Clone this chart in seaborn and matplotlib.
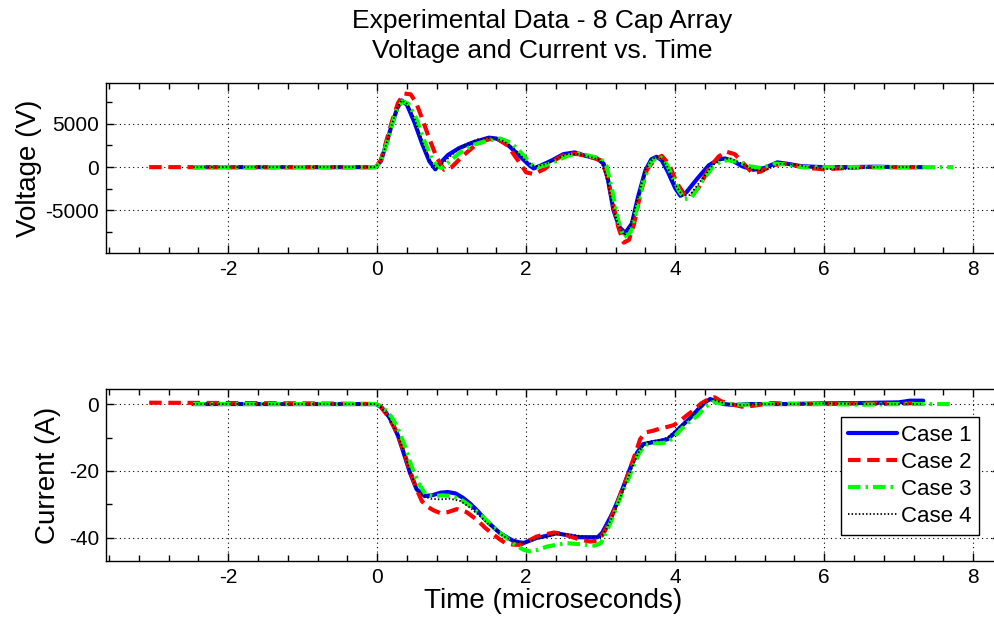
import numpy as np
import pandas as pd
import matplotlib
matplotlib.use("Agg")
import matplotlib.pyplot as plt
from matplotlib.ticker import MultipleLocator
import seaborn as sns

# Dados (tempo em microssegundos)
case_names = ["Case 1", "Case 2", "Case 3", "Case 4"]

# Tensão (V)
t_v1 = [-2.47, -0.02, 0.05, 0.12, 0.2, 0.27, 0.33, 0.4, 0.5, 0.6, 0.7, 0.78, 0.85, 0.95, 1.1, 1.3, 1.5,
        1.6, 1.75, 1.9, 2.02, 2.1, 2.2, 2.35, 2.5, 2.65, 2.8, 2.95, 3.04, 3.1, 3.17, 3.25, 3.33, 3.42, 3.5,
        3.6, 3.68, 3.75, 3.82, 3.9, 4.0, 4.07, 4.15, 4.3, 4.45, 4.58, 4.67, 4.78, 4.9, 5.05, 5.2, 5.37,
        5.5, 5.7, 6.0, 6.3, 6.7, 7.0, 7.33]
v1 = [0, 0, 700, 2600, 5000, 6800, 7700, 7200, 5200, 2800, 700, -250, 500, 1400, 2200, 2900, 3400,
      3300, 2600, 1400, 400, -150, 200, 800, 1500, 1700, 1300, 1000, 400, -1500, -4900, -6900, -7600,
      -6500, -3500, -400, 900, 1200, 800, -500, -2400, -3300, -2900, -1300, 200, 900, 1000, 700, 100,
      -300, -100, 550, 400, 100, 0, 0, 50, 0, 0]

t_v2 = [-3.06, -0.02, 0.05, 0.12, 0.2, 0.28, 0.36, 0.45, 0.52, 0.6, 0.7, 0.8, 0.9, 1.0, 1.15, 1.3, 1.45,
        1.6, 1.75, 1.88, 2.0, 2.1, 2.25, 2.4, 2.55, 2.7, 2.85, 3.0, 3.08, 3.16, 3.24, 3.31, 3.38, 3.45,
        3.53, 3.62, 3.72, 3.82, 3.92, 4.02, 4.12, 4.22, 4.32, 4.45, 4.58, 4.68, 4.8, 4.92, 5.04, 5.15,
        5.3, 5.45, 5.6, 5.8, 6.0, 6.2, 6.5, 6.9, 7.25]
v2 = [0, 0, 800, 2900, 5300, 7400, 8500, 8400, 7500, 5700, 3300, 1100, -300, 0, 1300, 2400, 3100,
      3400, 2500, 900, -600, -800, -200, 900, 1600, 1500, 1200, 800, -700, -4000, -7000, -8700, -8400,
      -6500, -3200, -300, 800, 1300, 300, -1800, -3100, -3300, -2300, -200, 1200, 1800, 1500, 400,
      -700, -500, 200, 400, 200, -100, -250, -150, 0, 0, 0]

t_v3 = [-2.47, -0.02, 0.05, 0.12, 0.2, 0.27, 0.34, 0.42, 0.52, 0.62, 0.72, 0.8, 0.87, 0.95, 1.1, 1.3,
        1.5, 1.65, 1.8, 1.95, 2.07, 2.15, 2.25, 2.4, 2.55, 2.7, 2.85, 3.0, 3.08, 3.15, 3.23, 3.31, 3.4,
        3.48, 3.57, 3.67, 3.77, 3.86, 3.95, 4.05, 4.13, 4.22, 4.35, 4.5, 4.62, 4.72, 4.85, 5.0, 5.15,
        5.35, 5.5, 5.7, 6.0, 6.5, 7.0, 7.4, 7.73]
v3 = [0, 0, 700, 2500, 4900, 6800, 7600, 7300, 5700, 3300, 1200, 100, -100, 500, 1600, 2600, 3100,
      3300, 2800, 1500, 300, 0, 200, 700, 1300, 1600, 1300, 1000, 100, -2500, -6000, -8100, -7500,
      -5000, -1700, 500, 1300, 800, -800, -2700, -3700, -3500, -1800, 0, 700, 800, 600, 100, -100,
      400, 300, 0, 0, 0, 0, 0, 0]

t_v4 = [-2.47, -0.02, 0.05, 0.12, 0.2, 0.27, 0.33, 0.4, 0.5, 0.6, 0.7, 0.8, 0.9, 1.0, 1.15, 1.35, 1.55,
        1.7, 1.85, 2.0, 2.12, 2.25, 2.4, 2.55, 2.7, 2.85, 3.0, 3.08, 3.16, 3.24, 3.32, 3.4, 3.5, 3.6,
        3.7, 3.78, 3.88, 4.0, 4.1, 4.2, 4.35, 4.5, 4.62, 4.75, 4.9, 5.05, 5.2, 5.4, 5.6, 5.8, 6.0, 6.3,
        6.7, 7.0, 7.3]
v4 = [0, 0, 700, 2600, 5000, 6900, 7700, 7300, 5600, 3000, 800, -100, 600, 1400, 2500, 3200, 3400,
      3000, 2000, 700, 100, 300, 900, 1500, 1500, 1200, 800, -1200, -4500, -6800, -7900, -6800, -3500,
      -300, 1000, 1200, 300, -2000, -3300, -3200, -1500, 200, 900, 1000, 400, -300, -400, 400, 300, 0,
      -200, -200, 0, 0, 0]

# Corrente (A)
t_i1 = [-2.47, -0.02, 0.05, 0.11, 0.17, 0.22, 0.28, 0.35, 0.44, 0.53, 0.64, 0.75, 0.85, 0.95, 1.05,
        1.15, 1.25, 1.35, 1.45, 1.56, 1.65, 1.74, 1.82, 1.9, 1.97, 2.05, 2.14, 2.25, 2.41, 2.55, 2.7,
        2.85, 2.96, 3.02, 3.08, 3.15, 3.22, 3.3, 3.4, 3.49, 3.57, 3.68, 3.8, 3.9, 4.0, 4.1, 4.2, 4.3,
        4.4, 4.47, 4.55, 4.65, 4.8, 5.0, 5.5, 6.0, 6.5, 7.0, 7.15, 7.33]
i1 = [0, 0, -0.8, -2.3, -4.2, -6.5, -9.5, -14.2, -20.5, -25.5, -27.5, -27.2, -26.5, -26.3, -26.7,
      -28.0, -29.8, -32.0, -34.5, -36.8, -38.6, -39.8, -40.8, -41.3, -41.5, -40.8, -40.0, -39.5,
      -38.6, -39.2, -39.8, -39.8, -39.8, -38.5, -36.0, -33.0, -29.5, -25.0, -19.0, -14.5, -12.0,
      -11.5, -11.0, -10.5, -8.5, -6.3, -4.2, -1.8, 0.5, 1.5, 0.8, 0.0, -0.3, 0, 0, 0.2, 0.3, 0.5,
      1.0, 1.0]

t_i2 = [-3.06, -1.0, -0.02, 0.05, 0.11, 0.17, 0.23, 0.3, 0.37, 0.45, 0.53, 0.6, 0.67, 0.76, 0.85, 0.95,
        1.07, 1.2, 1.34, 1.45, 1.56, 1.65, 1.72, 1.82, 1.92, 2.02, 2.14, 2.25, 2.37, 2.5, 2.62, 2.74,
        2.86, 2.96, 3.03, 3.1, 3.17, 3.24, 3.32, 3.4, 3.47, 3.53, 3.6, 3.7, 3.8, 3.9, 3.98, 4.07, 4.15,
        4.25, 4.35, 4.45, 4.53, 4.62, 4.75, 4.9, 5.05, 5.3, 5.6, 6.0, 6.5, 7.0, 7.2]
i2 = [0.4, 0.2, 0, -0.9, -2.6, -4.6, -7.0, -10.5, -15.0, -20.5, -25.5, -29.0, -30.6, -31.8, -32.6,
      -32.3, -31.4, -32.3, -34.6, -37.0, -39.0, -40.5, -41.5, -42.0, -42.1, -41.0, -39.6, -39.0,
      -38.4, -38.8, -39.8, -40.6, -41.1, -40.8, -39.0, -36.0, -32.5, -28.5, -24.0, -19.0, -14.5,
      -10.5, -8.5, -8.0, -7.3, -6.8, -6.3, -5.0, -3.5, -1.8, 0.2, 1.5, 2.0, 0.8, 0.0, -0.8, -0.5,
      0.3, 0, 0, 0.2, 0, 0.3]

t_i3 = [-2.47, -0.02, 0.05, 0.12, 0.19, 0.25, 0.31, 0.38, 0.46, 0.55, 0.65, 0.76, 0.88, 1.0, 1.12,
        1.25, 1.38, 1.5, 1.62, 1.74, 1.85, 1.96, 2.05, 2.15, 2.28, 2.42, 2.55, 2.68, 2.81, 2.92, 3.0,
        3.07, 3.14, 3.21, 3.28, 3.36, 3.44, 3.52, 3.6, 3.7, 3.8, 3.89, 3.98, 4.08, 4.18, 4.3, 4.4, 4.5,
        4.6, 4.75, 4.9, 5.2, 5.6, 6.0, 6.5, 7.0, 7.4, 7.73]
i3 = [0, 0, -0.6, -2.0, -3.8, -6.0, -9.0, -13.0, -18.5, -23.5, -27.0, -27.5, -27.3, -27.5, -28.5,
      -30.5, -33.0, -35.5, -38.0, -40.0, -42.0, -43.5, -44.0, -43.6, -42.6, -42.0, -41.6, -41.8,
      -42.1, -42.3, -41.6, -38.5, -35.0, -31.0, -27.0, -23.0, -18.5, -14.5, -12.2, -11.7, -11.7,
      -11.5, -10.0, -7.5, -5.5, -3.5, -1.0, 0.6, 0.3, 0, -0.2, 0, 0, 0, -0.2, 0, 0, 0]

t_i4 = [-2.47, -0.02, 0.05, 0.11, 0.17, 0.23, 0.3, 0.37, 0.45, 0.53, 0.62, 0.72, 0.84, 0.98, 1.12,
        1.25, 1.38, 1.5, 1.62, 1.74, 1.85, 1.95, 2.05, 2.15, 2.3, 2.45, 2.6, 2.75, 2.9, 3.0, 3.07,
        3.14, 3.21, 3.28, 3.36, 3.44, 3.52, 3.6, 3.7, 3.8, 3.9, 4.0, 4.1, 4.2, 4.3, 4.4, 4.48, 4.58,
        4.7, 4.9, 5.2, 5.6, 6.0, 6.5, 7.0, 7.3]
i4 = [0, 0, -1.0, -2.6, -4.6, -7.2, -10.5, -15.0, -20.5, -25.5, -27.5, -28.3, -28.5, -28.3, -29.0,
      -31.0, -33.5, -36.0, -38.3, -40.0, -41.0, -41.5, -41.0, -40.3, -39.5, -38.8, -39.0, -39.5,
      -39.8, -39.8, -37.5, -34.5, -31.0, -27.0, -22.5, -18.0, -14.0, -11.5, -11.0, -10.8, -10.0,
      -8.0, -6.0, -4.0, -1.5, 0.5, 1.5, 0.8, 0, -0.3, 0, 0, 0.2, 0, 0, 0]

volt_t = [t_v1, t_v2, t_v3, t_v4]
volt_y = [v1, v2, v3, v4]
curr_t = [t_i1, t_i2, t_i3, t_i4]
curr_y = [i1, i2, i3, i4]

# Estilo parecido com o MATLAB
colors = ["#0000ff", "#ff0000", "#00ff00", "#000000"]
styles = ["-", (0, (3.0, 1.6)), (0, (3.0, 1.2, 0.6, 1.2)), (0, (0.8, 1.2))]
widths = [3, 3, 3, 1.3]

sns.set_theme(style="white")
plt.rcParams['font.family'] = ['Liberation Sans', 'DejaVu Sans']
plt.rcParams['axes.unicode_minus'] = False
plt.rcParams['text.color'] = 'black'
plt.rcParams['axes.labelcolor'] = 'black'
plt.rcParams['xtick.color'] = 'black'
plt.rcParams['ytick.color'] = 'black'
plt.rcParams['xtick.direction'] = 'in'
plt.rcParams['ytick.direction'] = 'in'

fig = plt.figure(figsize=(9.95, 6.2), dpi=100)
ax1 = fig.add_axes([0.1065, 0.592, 0.8985, 0.274])
ax2 = fig.add_axes([0.1065, 0.0952, 0.8985, 0.2774])

for k in range(4):
    df_v = pd.DataFrame({"t": volt_t[k], "y": volt_y[k]})
    sns.lineplot(data=df_v, x="t", y="y", ax=ax1, color=colors[k], linestyle=styles[k],
                 linewidth=widths[k], sort=False, estimator=None)
    df_i = pd.DataFrame({"t": curr_t[k], "y": curr_y[k]})
    sns.lineplot(data=df_i, x="t", y="y", ax=ax2, color=colors[k], linestyle=styles[k],
                 linewidth=widths[k], sort=False, estimator=None, label=case_names[k])

x_min, x_max = -3.64, 8.36
for ax in (ax1, ax2):
    ax.set_xlim(x_min, x_max)
    ax.xaxis.set_major_locator(MultipleLocator(2))
    ax.xaxis.set_minor_locator(MultipleLocator(0.4))
    ax.grid(True, which='major', color='black', linestyle=(0, (1, 3)), linewidth=0.8)
    ax.tick_params(which='both', top=True, right=True, bottom=True, left=True,
                   direction='in', color='black', labelcolor='black', labelsize=15, width=1)
    ax.tick_params(which='major', length=6, pad=5)
    ax.tick_params(which='minor', length=4)
    for s in ax.spines.values():
        s.set_color('black')
        s.set_linewidth(1)
    ax.set_xlabel("")
    ax.set_ylabel("")

ax1.set_ylim(-9900, 9700)
ax1.yaxis.set_major_locator(MultipleLocator(5000))
ax1.yaxis.set_minor_locator(MultipleLocator(2500))
ax1.set_ylabel("Voltage (V)", fontsize=20)
ax1.yaxis.set_label_coords(-0.071, 0.5)

ax2.set_ylim(-46.9, 4.5)
ax2.yaxis.set_major_locator(MultipleLocator(20))
ax2.yaxis.set_minor_locator(MultipleLocator(10))
ax2.set_ylabel("Current (A)", fontsize=20)
ax2.yaxis.set_label_coords(-0.05, 0.5)
ax2.set_xlabel("Time (microseconds)", fontsize=20, labelpad=1)

leg = ax2.legend(loc='lower right', bbox_to_anchor=(0.9765, 0.151), borderaxespad=0,
                 fontsize=16, frameon=True, fancybox=False, framealpha=1, edgecolor='black',
                 handlelength=2.2, handletextpad=0.15, labelspacing=0.28, borderpad=0.35)
leg.get_frame().set_linewidth(1)

fig.text(542 / 995, 1 - 36 / 620, "Experimental Data - 8 Cap Array\nVoltage and Current vs. Time",
         ha='center', va='center', fontsize=19, linespacing=1.35)

fig.savefig("out.png", dpi=100)
